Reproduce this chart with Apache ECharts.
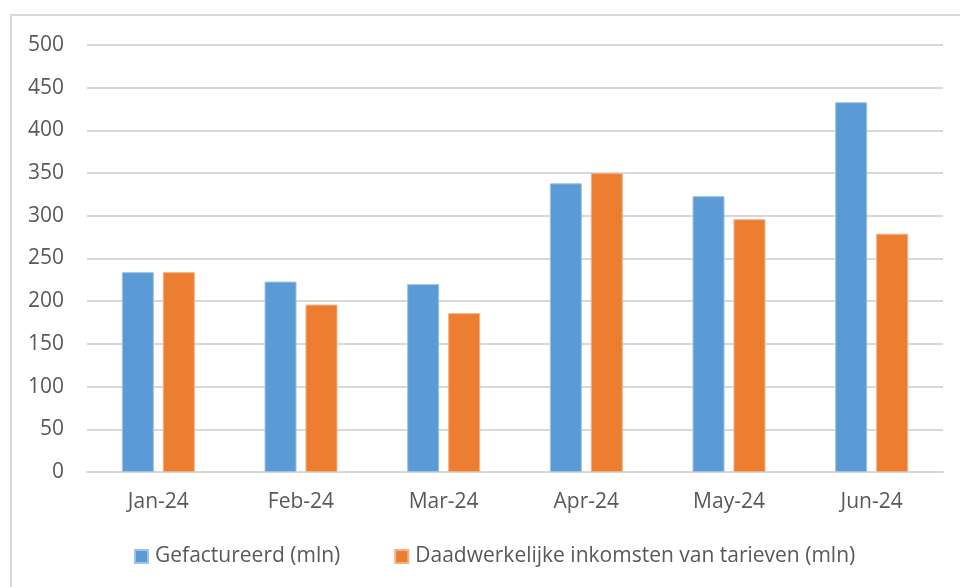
<!DOCTYPE html>
<html>
<head>
<meta charset="utf-8">
<script src="https://cdn.jsdelivr.net/npm/echarts@6/dist/echarts.min.js"></script>
<style>
  html, body { margin: 0; padding: 0; background: #fff; }
  #chart { width: 960px; height: 587px; }
</style>
</head>
<body>
<div id="chart"></div>
<script>
const months = ['Jan-24', 'Feb-24', 'Mar-24', 'Apr-24', 'May-24', 'Jun-24'];
const gefactureerd = [234, 223, 220, 338, 323, 433];
const daadwerkelijk = [234, 196, 186, 350, 296, 279];
const seriesNames = ['Gefactureerd (mln)', 'Daadwerkelijke inkomsten van tarieven (mln)'];

const txt = '#595959';
const font = 'Open Sans';

const myChart = echarts.init(document.getElementById('chart'));
const option = {
    animation: false,
    textStyle: { fontFamily: font },
    graphic: [{
        type: 'rect',
        shape: { x: 11, y: 15, width: 1000, height: 700 },
        style: { fill: 'none', stroke: '#d9d9d9', lineWidth: 2 },
        silent: true
    }],
    grid: { left: 87, right: 17, top: 45, bottom: 115, containLabel: false },
    legend: {
        left: 129,
        top: 541,
        itemWidth: 13,
        itemHeight: 13,
        itemGap: 54,
        icon: 'rect',
        textStyle: { color: txt, fontSize: 21, fontFamily: font, padding: [0, 0, 0, 2] },
        data: seriesNames
    },
    xAxis: {
        type: 'category',
        data: months,
        axisLine: { lineStyle: { color: '#d9d9d9', width: 2 } },
        axisTick: { show: false },
        axisLabel: { color: txt, fontSize: 21, margin: 20 }
    },
    yAxis: {
        type: 'value',
        min: 0,
        max: 500,
        interval: 50,
        axisLine: { show: false },
        axisTick: { show: false },
        axisLabel: { color: txt, fontSize: 21, margin: 23 },
        splitLine: { lineStyle: { color: '#d9d9d9', width: 2 } }
    },
    series: [{
        name: seriesNames[0],
        type: 'bar',
        data: gefactureerd,
        barWidth: 32,
        barGap: '28%',
        itemStyle: { color: '#5B9BD5', borderColor: '#9dc3e6', borderWidth: 1 }
    }, {
        name: seriesNames[1],
        type: 'bar',
        data: daadwerkelijk,
        barWidth: 32,
        itemStyle: { color: '#ED7D31', borderColor: '#f4b183', borderWidth: 1 }
    }]
};
myChart.setOption(option);
</script>
</body>
</html>
